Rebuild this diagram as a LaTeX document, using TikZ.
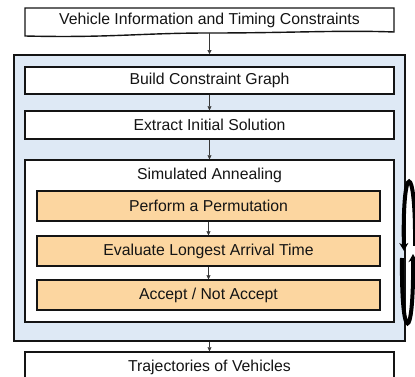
\documentclass[tikz,border=0pt]{standalone}
\usepackage{fontspec}
\setmainfont{Liberation Sans}
\usetikzlibrary{arrows.meta}
\definecolor{panelblue}{RGB}{222,233,245}
\definecolor{stepfill}{RGB}{252,214,160}
\definecolor{ink}{RGB}{20,20,20}
\tikzset{
  lbl/.style={font=\fontsize{15.8}{18}\selectfont, text=ink, inner sep=0pt},
  plainbox/.style={draw=ink, line width=1.4pt, fill=white, minimum width=369pt, inner sep=0pt},
  orangebox/.style={draw=ink, line width=1.3pt, fill=stepfill, minimum width=343pt, minimum height=30pt, inner sep=0pt, lbl},
  conn/.style={draw=ink!85, line width=0.6pt, -{Triangle[length=4pt,width=4pt]}},
  loop/.style={draw=black, line width=4pt, -{Stealth[length=8pt,width=9pt]}}
}
\begin{document}
\begin{tikzpicture}[x=1pt,y=-1pt]
\useasboundingbox (0,0) rectangle (415,377);
\clip (0,0) rectangle (415,377);

% input document shape with wavy lower edge
\draw[ink, line width=1.4pt, fill=white]
  (25,8) -- (394,8) -- (394,32)
  .. controls (340,30) and (290,33) .. (210,33)
  .. controls (140,33) and (110,38) .. (25,36) -- cycle;
\node[lbl] (input) at (209.5,20.5) {Vehicle Information and Timing Constraints};
\coordinate (inbot) at (209.5,33);

% outer panel
\node[draw=ink, line width=1.8pt, fill=panelblue, minimum width=391pt, minimum height=286pt, inner sep=0pt] (outer) at (209.5,198) {};

\node[plainbox, minimum height=27pt, lbl] (build) at (209.5,80.5) {Build Constraint Graph};
\node[plainbox, minimum height=28pt, lbl] (extract) at (209.5,125) {Extract Initial Solution};

% simulated annealing block
\node[plainbox, minimum height=162pt] (sa) at (209.5,241) {};
\node[lbl] (satitle) at (209.5,175) {Simulated Annealing};
\node[orangebox] (perform) at (208.5,206) {Perform a Permutation};
\node[orangebox] (evaluate) at (208.5,251) {Evaluate Longest Arrival Time};
\node[orangebox] (accept) at (208.5,295) {Accept / Not Accept};

\node[plainbox, minimum height=31pt, lbl] (traj) at (209.5,367.5) {Trajectories of Vehicles};

% connectors
\draw[conn] (inbot) -- (outer.north);
\draw[conn] (build.south) -- (extract.north);
\draw[conn] (extract.south) -- (sa.north);
\draw[conn] (perform.south) -- (evaluate.north);
\draw[conn] (evaluate.south) -- (accept.north);
\draw[conn] (outer.south) -- (traj.north);

% iteration loop
\coordinate (loopa) at (415,246);
\coordinate (loopb) at (404,251);
\coordinate (loopc) at (402,258);
\coordinate (loopd) at (413,254);
\draw[loop] (loopa) .. controls (416,160) and (402,160) .. (loopb);
\draw[loop] (loopc) .. controls (401,345) and (414,345) .. (loopd);
\end{tikzpicture}
\end{document}
